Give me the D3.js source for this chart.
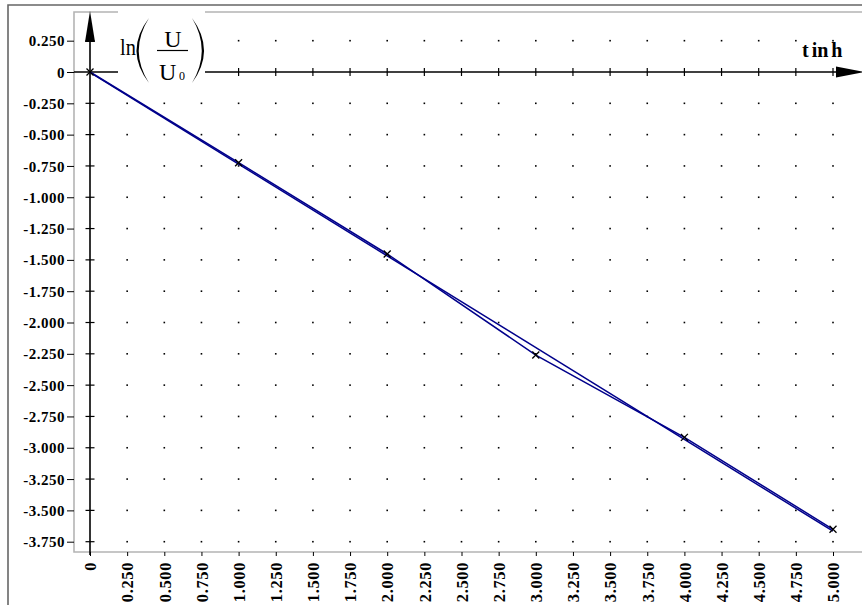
<!DOCTYPE html>
<html>
<head>
<meta charset="utf-8">
<script src="https://cdn.jsdelivr.net/npm/d3@7/dist/d3.min.js"></script>
<style>
  html, body { margin: 0; padding: 0; background: #fff; }
  svg { display: block; }
</style>
</head>
<body>
<svg id="chart" width="862" height="605"></svg>
<script>
// ---- data ----
const tValues   = [0, 1, 2, 3, 4, 5];
const lnValues  = [0, -0.724, -1.453, -2.26, -2.917, -3.651];
const fitT      = [0, 5];
const fitLn     = [-0.003, -3.666];
const xTickValues = [0,0.25,0.5,0.75,1,1.25,1.5,1.75,2,2.25,2.5,2.75,3,3.25,3.5,3.75,4,4.25,4.5,4.75,5];
const xTickLabels = ["0","0.250","0.500","0.750","1.000","1.250","1.500","1.750","2.000","2.250","2.500","2.750","3.000","3.250","3.500","3.750","4.000","4.250","4.500","4.750","5.000"];
const yTickValues = [0.25,0,-0.25,-0.5,-0.75,-1,-1.25,-1.5,-1.75,-2,-2.25,-2.5,-2.75,-3,-3.25,-3.5,-3.75];
const yTickLabels = ["0.250","0","-0.250","-0.500","-0.750","-1.000","-1.250","-1.500","-1.750","-2.000","-2.250","-2.500","-2.750","-3.000","-3.250","-3.500","-3.750"];
const xAxisTitle = "t in h";

// ---- layout ----
const svg = d3.select("#chart");
const x = d3.scaleLinear().domain([0, 5]).range([90, 833]);
const y = d3.scaleLinear().domain([0, -3.75]).range([72, 541.7]);
const frame = {left: 74, top: 12, right: 862, bottom: 552};
const serif = "'Liberation Serif','Times New Roman',serif";
const navy = "#00008b";

// outer frame
svg.append("path").attr("d", `M8,605 L8,5 L862,5`)
  .attr("fill","none").attr("stroke","#666").attr("stroke-width",1.6);

// inner frame
svg.append("path").attr("d", `M${frame.right},${frame.top} L${frame.left},${frame.top} L${frame.left},${frame.bottom} L${frame.right},${frame.bottom}`)
  .attr("fill","none").attr("stroke","#b4b4b4").attr("stroke-width",1.6);

// grid dots
const dotG = svg.append("g");
xTickValues.filter(v => v !== 0).forEach(tx => {
  yTickValues.filter(v => v !== 0).forEach(ty => {
    dotG.append("rect").attr("x", x(tx) - 0.8).attr("y", y(ty) - 0.8)
      .attr("width", 1.6).attr("height", 1.6).attr("fill", "#000");
  });
});

// left axis labels (on frame)
const yAxis = d3.axisLeft(y).tickValues(yTickValues)
  .tickFormat((d, i) => yTickLabels[i]).tickSize(7).tickPadding(2);
const gy = svg.append("g").attr("transform", `translate(${frame.left},0)`).call(yAxis);
gy.select(".domain").remove();
gy.selectAll("line").attr("stroke", "#000").attr("stroke-width", 1);
gy.selectAll("text").attr("font-family", serif).attr("font-weight", "bold")
  .attr("font-size", 15).attr("letter-spacing", 0.5).attr("fill", "#000").attr("dy", "0.34em");

// bottom axis labels (on frame)
const xAxis = d3.axisBottom(x).tickValues(xTickValues)
  .tickFormat((d, i) => xTickLabels[i]).tickSize(4);
const gx = svg.append("g").attr("transform", `translate(0,${frame.bottom})`).call(xAxis);
gx.select(".domain").remove();
gx.selectAll("line").attr("stroke", "#000").attr("stroke-width", 1);
gx.selectAll("text").attr("font-family", serif).attr("font-weight", "bold")
  .attr("font-size", 16.5).attr("letter-spacing", 0.6).attr("fill", "#000")
  .attr("transform", "rotate(-90)").attr("text-anchor", "end")
  .attr("x", -10).attr("y", 0).attr("dy", "0.35em");

// x axis line at y=0 with crossing ticks
svg.append("line").attr("x1", frame.left).attr("x2", 840).attr("y1", y(0)).attr("y2", y(0))
  .attr("stroke", "#000").attr("stroke-width", 1.6);
xTickValues.filter(v => v !== 0).forEach(tx => {
  svg.append("line").attr("x1", x(tx)).attr("x2", x(tx)).attr("y1", y(0) - 4).attr("y2", y(0) + 4)
    .attr("stroke", "#000").attr("stroke-width", 1.2);
});
svg.append("path").attr("d", `M836,${y(0) - 5.5} L864,${y(0)} L836,${y(0) + 5.5} Z`).attr("fill", "#000");

// y axis line at x=0 with crossing ticks
svg.append("line").attr("x1", x(0)).attr("x2", x(0)).attr("y1", frame.bottom + 3).attr("y2", 40)
  .attr("stroke", "#000").attr("stroke-width", 1.6);
yTickValues.filter(v => v !== 0).forEach(ty => {
  svg.append("line").attr("x1", x(0) - 4.5).attr("x2", x(0) + 4.5).attr("y1", y(ty)).attr("y2", y(ty))
    .attr("stroke", "#000").attr("stroke-width", 1.2);
});
svg.append("path").attr("d", `M${x(0) - 5},42 L${x(0)},11 L${x(0) + 5},42 Z`).attr("fill", "#000");

// y-axis title box
svg.append("rect").attr("x", 118).attr("y", 7).attr("width", 87).attr("height", 78).attr("fill", "#fff");
const lab = svg.append("g").attr("font-family", serif).attr("fill", "#000");
lab.append("text").attr("transform", "translate(120,55) scale(0.85,1)").attr("font-size", 24).text("ln");
// big parentheses
lab.append("path").attr("d", "M149,18 Q124,50.5 149,83 Q128.5,50.5 149,18 Z").attr("fill", "#000");
lab.append("path").attr("d", "M192,18 Q216,50.5 192,83 Q211.5,50.5 192,18 Z").attr("fill", "#000");
lab.append("text").attr("x", 173).attr("y", 47).attr("font-size", 24).attr("text-anchor", "middle").text("U");
lab.append("line").attr("x1", 157).attr("x2", 188).attr("y1", 50.5).attr("y2", 50.5)
  .attr("stroke", "#000").attr("stroke-width", 1.2);
lab.append("text").attr("x", 159).attr("y", 80).attr("font-size", 24).text("U");
lab.append("text").attr("x", 179).attr("y", 80).attr("font-size", 12).text("0");

// x-axis title
svg.append("text").attr("x", 802).attr("y", 57).attr("font-family", serif)
  .attr("font-weight", "bold").attr("font-size", 20).attr("fill", "#000")
  .attr("word-spacing", -2).text(xAxisTitle);

// fit line
svg.append("path")
  .datum(fitT.map((t, i) => [t, fitLn[i]]))
  .attr("d", d3.line().x(d => x(d[0])).y(d => y(d[1])))
  .attr("fill", "none").attr("stroke", navy).attr("stroke-width", 1.5);

// data polyline
const pts = tValues.map((t, i) => [t, lnValues[i]]);
svg.append("path").datum(pts)
  .attr("d", d3.line().x(d => x(d[0])).y(d => y(d[1])))
  .attr("fill", "none").attr("stroke", navy).attr("stroke-width", 1.5);

// markers
svg.append("g").selectAll("path").data(pts).join("path")
  .attr("d", d => {
    const px = x(d[0]), py = y(d[1]), s = 3.5;
    return `M${px - s},${py - s}L${px + s},${py + s}M${px - s},${py + s}L${px + s},${py - s}`;
  })
  .attr("stroke", "#000").attr("stroke-width", 1.3).attr("fill", "none");
</script>
</body>
</html>
